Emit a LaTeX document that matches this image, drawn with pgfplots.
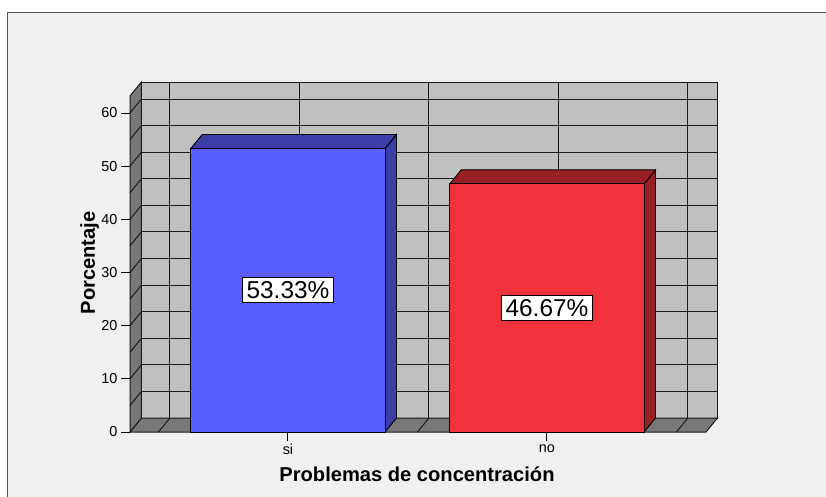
\documentclass[border=0pt]{standalone}
\usepackage{fontspec}
\setmainfont{Liberation Sans}
\usepackage{pgfplots}
\pgfplotsset{compat=1.18}
\definecolor{bgc}{HTML}{F0F0F0}
\definecolor{wallc}{HTML}{C0C0C0}
\definecolor{floorc}{HTML}{787878}
\definecolor{gridc}{HTML}{1A1A1A}
\definecolor{bluef}{HTML}{5A5EFF}
\definecolor{blues}{HTML}{3A3EA6}
\definecolor{redf}{HTML}{F0323A}
\definecolor{reds}{HTML}{9A1F24}
\definecolor{framec}{HTML}{505050}
\begin{document}
\begin{tikzpicture}
\useasboundingbox (0,0) rectangle (826bp,-497bp);
\fill[white] (0,0) rectangle (826bp,-497bp);
\fill[bgc] (7bp,-12bp) rectangle (830bp,-500bp);
\draw[framec, line width=1bp] (7bp,-500bp) -- (7bp,-12bp) -- (830bp,-12bp);
\begin{axis}[
  at={(130bp,-432bp)}, anchor=south west,
  scale only axis, width=587.4bp, height=350bp,
  xmin=-0.61, xmax=1.658, ymin=0, ymax=65.83,
  axis x line*=bottom, axis y line*=left,
  axis line style={draw=none},
  tick align=outside, major tick length=9bp,
  xtick={0,1}, xticklabels={si,no},
  ytick={0,10,20,30,40,50,60},
  minor tick num=0,
  tick style={black, line width=1bp},
  tick label style={font=\fontsize{14.5}{16}\selectfont, text=black},
  /pgf/number format/assume math mode=true,
  xlabel={Problemas de concentración},
  ylabel={Porcentaje},
  label style={font=\bfseries\fontsize{20.2}{22}\selectfont},
  xlabel style={at={(rel axis cs:0.4886,0)}, anchor=base, yshift=-49bp},
  ylabel style={at={(rel axis cs:-0.0596,0.483)}, anchor=base},
  unbounded coords=jump,
  clip=false,
]
% back wall
\addplot[draw=gridc, fill=wallc, line width=1bp] coordinates {(-0.566,2.63) (1.658,2.63) (1.658,65.83) (-0.566,65.83)} -- cycle;
% back wall horizontal grid
\addplot[draw=gridc, line width=1bp] coordinates {
(-0.566,7.63) (1.658,7.63) (nan,nan)
(-0.566,12.63) (1.658,12.63) (nan,nan)
(-0.566,17.63) (1.658,17.63) (nan,nan)
(-0.566,22.63) (1.658,22.63) (nan,nan)
(-0.566,27.63) (1.658,27.63) (nan,nan)
(-0.566,32.63) (1.658,32.63) (nan,nan)
(-0.566,37.63) (1.658,37.63) (nan,nan)
(-0.566,42.63) (1.658,42.63) (nan,nan)
(-0.566,47.63) (1.658,47.63) (nan,nan)
(-0.566,52.63) (1.658,52.63) (nan,nan)
(-0.566,57.63) (1.658,57.63) (nan,nan)
(-0.566,62.63) (1.658,62.63)
};
% back wall vertical grid
\addplot[draw=gridc, line width=1bp] coordinates {
(-0.456,2.63) (-0.456,65.83) (nan,nan)
(0.044,2.63) (0.044,65.83) (nan,nan)
(0.544,2.63) (0.544,65.83) (nan,nan)
(1.044,2.63) (1.044,65.83) (nan,nan)
(1.544,2.63) (1.544,65.83)
};
% floor
\addplot[draw=gridc, fill=floorc, line width=1bp] coordinates {(-0.61,0) (1.614,0) (1.658,2.63) (-0.566,2.63)} -- cycle;
\addplot[draw=gridc, line width=1bp] coordinates {
(-0.5,0) (-0.456,2.63) (nan,nan)
(0,0) (0.044,2.63) (nan,nan)
(0.5,0) (0.544,2.63) (nan,nan)
(1,0) (1.044,2.63) (nan,nan)
(1.5,0) (1.544,2.63)
};
% left wall
\addplot[draw=gridc, fill=floorc, line width=1bp] coordinates {(-0.61,0) (-0.566,2.63) (-0.566,65.83) (-0.61,63.2)} -- cycle;
\addplot[draw=gridc, line width=1bp] coordinates {
(-0.61,5) (-0.566,7.63) (nan,nan)
(-0.61,10) (-0.566,12.63) (nan,nan)
(-0.61,15) (-0.566,17.63) (nan,nan)
(-0.61,20) (-0.566,22.63) (nan,nan)
(-0.61,25) (-0.566,27.63) (nan,nan)
(-0.61,30) (-0.566,32.63) (nan,nan)
(-0.61,35) (-0.566,37.63) (nan,nan)
(-0.61,40) (-0.566,42.63) (nan,nan)
(-0.61,45) (-0.566,47.63) (nan,nan)
(-0.61,50) (-0.566,52.63) (nan,nan)
(-0.61,55) (-0.566,57.63) (nan,nan)
(-0.61,60) (-0.566,62.63)
};
% bar si
\addplot[draw=black, fill=blues, line width=0.9bp] coordinates {(0.375,0) (0.419,2.63) (0.419,55.96) (0.375,53.33)} -- cycle;
\addplot[draw=black, fill=blues, line width=0.9bp] coordinates {(-0.375,53.33) (0.375,53.33) (0.419,55.96) (-0.331,55.96)} -- cycle;
\addplot[ybar, bar width=0.75, bar shift=0pt, draw=black, fill=bluef, line width=0.9bp] coordinates {(0,53.33)};
% bar no
\addplot[draw=black, fill=reds, line width=0.9bp] coordinates {(1.375,0) (1.419,2.63) (1.419,49.30) (1.375,46.67)} -- cycle;
\addplot[draw=black, fill=reds, line width=0.9bp] coordinates {(0.625,46.67) (1.375,46.67) (1.419,49.30) (0.669,49.30)} -- cycle;
\addplot[ybar, bar width=0.75, bar shift=0pt, draw=black, fill=redf, line width=0.9bp] coordinates {(1,46.67)};
% value labels
\node[fill=white, draw=black, line width=0.9bp, inner xsep=4.5bp, inner ysep=4bp, font=\fontsize{24.5}{26}\selectfont] at (axis cs:0,26.67) {53.33\%};
\node[fill=white, draw=black, line width=0.9bp, inner xsep=4.5bp, inner ysep=4bp, font=\fontsize{24.5}{26}\selectfont] at (axis cs:1,23.33) {46.67\%};
\end{axis}
\end{tikzpicture}
\end{document}
